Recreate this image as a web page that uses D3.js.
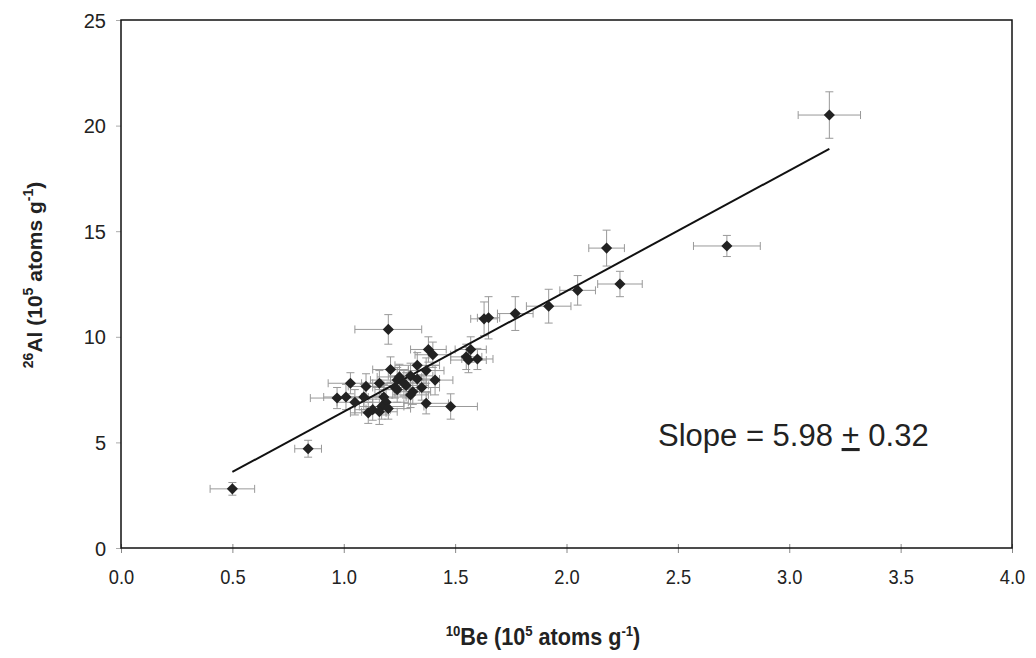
<!DOCTYPE html>
<html><head><meta charset="utf-8">
<script src="https://cdn.jsdelivr.net/npm/d3@7"></script>
<style>
body{margin:0;background:#fff;}
svg{display:block;}
</style></head>
<body>
<svg id="c" width="1036" height="658"></svg>
<script>
// Data (10^5 atoms/g)
const beX   = [0.50,0.84,3.18,2.72,2.18,2.24,2.05,1.92,1.77,1.65,1.63,1.20,1.38,1.40,1.55,1.57,1.56,1.60,1.33,1.21,1.37,1.41,1.03,1.10,1.16,1.24,1.25,1.27,1.23,1.30,1.28,1.35,1.31,1.30,1.37,1.48,1.18,1.19,1.17,1.01,1.05,1.09,1.13,1.16,1.11,1.20,1.24,1.33,0.97];
const alY   = [2.8,4.7,20.5,14.3,14.2,12.5,12.2,11.45,11.1,10.9,10.85,10.35,9.4,9.15,9.05,9.4,8.9,8.95,8.65,8.45,8.4,7.95,7.8,7.65,7.8,7.95,8.1,7.8,7.6,8.15,7.7,7.6,7.4,7.25,6.85,6.7,7.15,6.9,6.7,7.15,6.9,7.15,6.55,6.45,6.4,6.6,7.5,8.0,7.1];
const beErr = [0.10,0.06,0.14,0.15,0.08,0.10,0.08,0.10,0.08,0.05,0.06,0.15,0.08,0.08,0.07,0.07,0.08,0.07,0.10,0.08,0.08,0.08,0.10,0.08,0.08,0.12,0.10,0.10,0.10,0.10,0.10,0.08,0.08,0.08,0.10,0.12,0.10,0.10,0.10,0.10,0.08,0.08,0.08,0.08,0.08,0.10,0.10,0.10,0.12];
const alErr = [0.3,0.4,1.1,0.5,0.85,0.6,0.7,0.8,0.8,1.0,0.8,0.7,0.6,0.6,0.6,0.6,0.6,0.5,0.6,0.6,0.6,0.7,0.5,0.6,0.6,0.6,0.6,0.6,0.5,0.6,0.6,0.6,0.6,0.6,0.5,0.6,0.6,0.6,0.6,0.6,0.6,0.6,0.5,0.6,0.5,0.5,0.6,0.6,0.5];
const fitX = [0.5, 3.18];
const fitY = [3.6, 18.9];
const xTicks = [0,0.5,1,1.5,2,2.5,3,3.5,4];
const yTicks = [0,5,10,15,20,25];

const svg = d3.select("#c");
const L = 121, R = 1012, T = 20, B = 548;
const x = d3.scaleLinear().domain([0,4]).range([L,R]);
const y = d3.scaleLinear().domain([0,25]).range([B,T]);

// axes
const xAxis = svg.append("g").attr("transform",`translate(0,${B})`)
  .call(d3.axisBottom(x).tickValues(xTicks).tickFormat(d3.format(".1f")).tickSize(5).tickPadding(16));
xAxis.select(".domain").remove();
xAxis.selectAll("line").attr("stroke","#888").attr("y1",-4);
xAxis.selectAll("text").attr("font-family","'Liberation Sans',Arial,sans-serif").attr("font-size","21px").attr("fill","#222")
  .attr("transform","scale(0.87,1)");

const yAxis = svg.append("g").attr("transform",`translate(${L},0)`)
  .call(d3.axisLeft(y).tickValues(yTicks).tickSize(5).tickPadding(10));
yAxis.select(".domain").remove();
yAxis.selectAll("line").attr("stroke","#aaa");
yAxis.selectAll("text").attr("font-family","'Liberation Sans',Arial,sans-serif").attr("font-size","20px").attr("fill","#222").attr("dy","0.35em");

// frame
svg.append("rect").attr("x",L).attr("y",T).attr("width",R-L).attr("height",B-T)
  .attr("fill","none").attr("stroke","#111").attr("stroke-width",1.5);

const pts = beX.map((v,i)=>({x:v,y:alY[i],ex:beErr[i],ey:alErr[i]}));

// error bars
const eb = svg.append("g").attr("stroke","#999").attr("stroke-width",1);
const cap = 4;
pts.forEach(p=>{
  eb.append("line").attr("x1",x(p.x-p.ex)).attr("x2",x(p.x+p.ex)).attr("y1",y(p.y)).attr("y2",y(p.y));
  eb.append("line").attr("x1",x(p.x-p.ex)).attr("x2",x(p.x-p.ex)).attr("y1",y(p.y)-cap).attr("y2",y(p.y)+cap);
  eb.append("line").attr("x1",x(p.x+p.ex)).attr("x2",x(p.x+p.ex)).attr("y1",y(p.y)-cap).attr("y2",y(p.y)+cap);
  eb.append("line").attr("x1",x(p.x)).attr("x2",x(p.x)).attr("y1",y(p.y-p.ey)).attr("y2",y(p.y+p.ey));
  eb.append("line").attr("x1",x(p.x)-cap).attr("x2",x(p.x)+cap).attr("y1",y(p.y-p.ey)).attr("y2",y(p.y-p.ey));
  eb.append("line").attr("x1",x(p.x)-cap).attr("x2",x(p.x)+cap).attr("y1",y(p.y+p.ey)).attr("y2",y(p.y+p.ey));
});

// fit line
svg.append("line").attr("x1",x(fitX[0])).attr("y1",y(fitY[0])).attr("x2",x(fitX[1])).attr("y2",y(fitY[1]))
  .attr("stroke","#111").attr("stroke-width",2);

// markers
const sym = d3.symbol().type(d3.symbolSquare).size(62);
svg.append("g").selectAll("path").data(pts).join("path")
  .attr("d",sym).attr("transform",d=>`translate(${x(d.x)},${y(d.y)}) rotate(45)`)
  .attr("fill","#222");

// slope text
const st = svg.append("text").attr("x",658).attr("y",446)
  .attr("font-family","'Liberation Sans',Arial,sans-serif").attr("font-size","31px").attr("fill","#222");
st.append("tspan").text("Slope = 5.98 ");
st.append("tspan").attr("text-decoration","underline").text("+");
st.append("tspan").text(" 0.32");

// x title
const xt = svg.append("text").attr("transform","translate(543,645) scale(0.94,1)").attr("text-anchor","middle")
  .attr("font-family","'Liberation Sans',Arial,sans-serif").attr("font-weight","bold").attr("font-size","23px").attr("fill","#222");
xt.append("tspan").attr("font-size","14px").attr("dy","-9").text("10");
xt.append("tspan").attr("dy","9").text("Be (10");
xt.append("tspan").attr("font-size","14px").attr("dy","-9").text("5");
xt.append("tspan").attr("dy","9").text(" atoms g");
xt.append("tspan").attr("font-size","14px").attr("dy","-9").text("-1");
xt.append("tspan").attr("dy","9").text(")");

// y title
const yt = svg.append("text").attr("transform","translate(42,275) rotate(-90)").attr("text-anchor","middle")
  .attr("font-family","'Liberation Sans',Arial,sans-serif").attr("font-weight","bold").attr("font-size","21px").attr("fill","#222");
yt.append("tspan").attr("font-size","14px").attr("dy","-9").text("26");
yt.append("tspan").attr("dy","9").text("Al (10");
yt.append("tspan").attr("font-size","14px").attr("dy","-9").text("5");
yt.append("tspan").attr("dy","9").text(" atoms g");
yt.append("tspan").attr("font-size","14px").attr("dy","-9").text("-1");
yt.append("tspan").attr("dy","9").text(")");
</script>
</body></html>
